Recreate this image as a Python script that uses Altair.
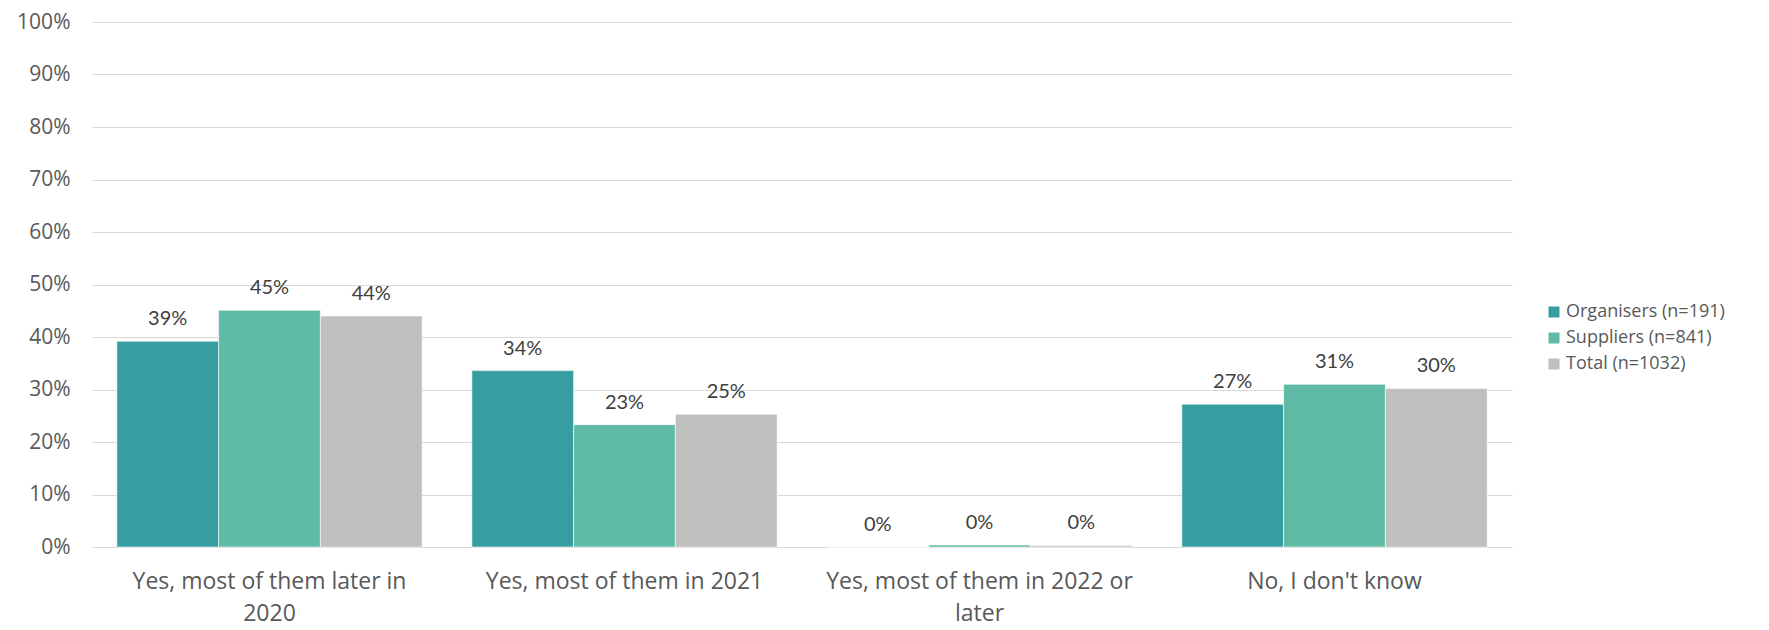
import altair as alt
import pandas as pd

categories = [
    "Yes, most of them later in 2020",
    "Yes, most of them in 2021",
    "Yes, most of them in 2022 or later",
    "No, I don't know",
]
series = ["Organisers (n=191)", "Suppliers (n=841)", "Total (n=1032)"]
organisers = [39.2, 33.6, 0.0, 27.2]
suppliers = [45.1, 23.3, 0.4, 31.0]
total = [44.0, 25.3, 0.3, 30.2]
colors = ["#369EA1", "#5FBBA6", "#BFBFBF"]
y_ticks = [0, 10, 20, 30, 40, 50, 60, 70, 80, 90, 100]

rows = []
for s, vals in zip(series, [organisers, suppliers, total]):
    for c, v in zip(categories, vals):
        rows.append({"category": c, "series": s, "value": v, "label": f"{round(v)}%"})
df = pd.DataFrame(rows)

label_expr = ("split(replace(replace(datum.label, 'later in 2020', 'later in|2020'), "
              "'2022 or later', '2022 or|later'), '|')")

base = alt.Chart(df).encode(
    x=alt.X(
        "category:N",
        sort=categories,
        scale=alt.Scale(paddingInner=0.14, paddingOuter=0.07),
        axis=alt.Axis(
            title=None, labelAngle=0, ticks=False, domain=False,
            labelFont="Open Sans", labelFontSize=23, labelColor="#595959",
            labelPadding=23, labelLineHeight=32, labelExpr=label_expr,
            labelLimit=0,
        ),
    ),
    xOffset=alt.XOffset("series:N", sort=series, scale=alt.Scale(paddingInner=0, paddingOuter=0)),
    y=alt.Y(
        "value:Q",
        scale=alt.Scale(domain=[0, 100], nice=False),
        axis=alt.Axis(
            title=None, values=y_ticks, labelExpr="datum.value + '%'",
            domain=False, ticks=False, labelPadding=22,
            labelFont="Open Sans", labelFontSize=21, labelColor="#595959",
            grid=True, gridColor="#D9D9D9", gridWidth=1.2,
        ),
    ),
)

bars = base.mark_bar(stroke="white", strokeWidth=0.6).encode(
    color=alt.Color(
        "series:N", sort=series,
        scale=alt.Scale(domain=series, range=colors),
        legend=alt.Legend(
            title=None, orient="none", legendX=1453, legendY=281,
            symbolType="square", symbolSize=121, symbolStrokeWidth=0,
            labelFont="Open Sans", labelFontSize=18, labelColor="#595959",
            rowPadding=8, labelOffset=3, labelLimit=0,
        ),
    )
)

text = base.mark_text(
    baseline="bottom", dy=-12, font="Lato", fontSize=20, color="#404040"
).encode(text="label:N")

chart = (
    alt.layer(bars, text)
    .properties(
        width=1420, height=525,
        autosize=alt.AutoSizeParams(type="none"),
        padding={"left": 84, "top": 14, "right": 249, "bottom": 83},
    )
    .configure_view(stroke=None)
)

chart.save("out.html", embed_options={"renderer": "svg", "actions": False})
